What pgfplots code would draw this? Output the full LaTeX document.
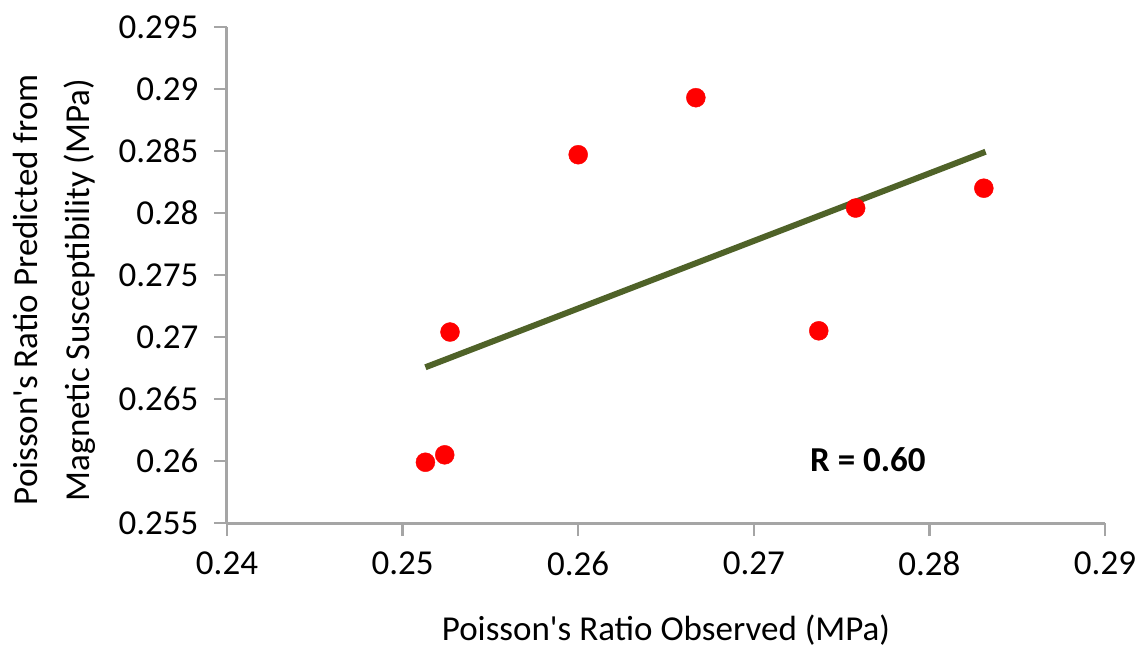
\documentclass[border=0pt]{standalone}
\usepackage{pgfplots}
\pgfplotsset{compat=1.18}
\usepackage{fontspec}
\setmainfont{Carlito}
\definecolor{trend}{RGB}{79,98,40}
\definecolor{axgray}{RGB}{165,165,165}
\begin{document}
\begin{tikzpicture}
\begin{axis}[
  scale only axis, width=878pt, height=496pt,
  xmin=0.24, xmax=0.29, ymin=0.255, ymax=0.295,
  axis x line*=bottom, axis y line*=left,
  axis line style={axgray, line width=3pt},
  tick style={axgray, line width=2.5pt},
  tick align=outside, major tick length=13pt,
  xtick={0.24,0.25,0.26,0.27,0.28,0.29},
  xticklabels={0.24,0.25,0.26,0.27,0.28,0.29},
  ytick={0.255,0.26,0.265,0.27,0.275,0.28,0.285,0.29,0.295},
  yticklabels={0.255,0.26,0.265,0.27,0.275,0.28,0.285,0.29,0.295},
  ticklabel style={font=\fontsize{35}{42}\selectfont, text=black},
  xticklabel style={yshift=-12pt},
  yticklabel style={xshift=-12pt},
  xlabel={Poisson\textquotesingle s Ratio Observed (MPa)},
  xlabel style={font=\fontsize{35}{42}\selectfont, at={(axis description cs:0.5,0)}, anchor=center, yshift=-107pt},
  ylabel={Poisson\textquotesingle s Ratio Predicted from\\Magnetic Susceptibility (MPa)},
  ylabel style={font=\fontsize{35}{52}\selectfont, align=center, at={(axis description cs:-0.197,0.47)}, anchor=center},
  clip=false,
]
\addplot[trend, line width=6pt] coordinates {(0.2513,0.26756) (0.2832,0.28494)};
\addplot[only marks, mark=*, mark size=9.5pt, color=red, mark options={fill=red, draw=red}] coordinates {
  (0.2513,0.2599) (0.2524,0.2605) (0.2527,0.2704) (0.2600,0.2847)
  (0.2667,0.2893) (0.2758,0.2804) (0.2737,0.2705) (0.2831,0.2820)
};
\node[font=\bfseries\fontsize{35}{42}\selectfont] at (axis cs:0.2765,0.2601) {R = 0.60};
\end{axis}
\path (-227pt,-121pt) rectangle (914pt,523pt);
\end{tikzpicture}
\end{document}
